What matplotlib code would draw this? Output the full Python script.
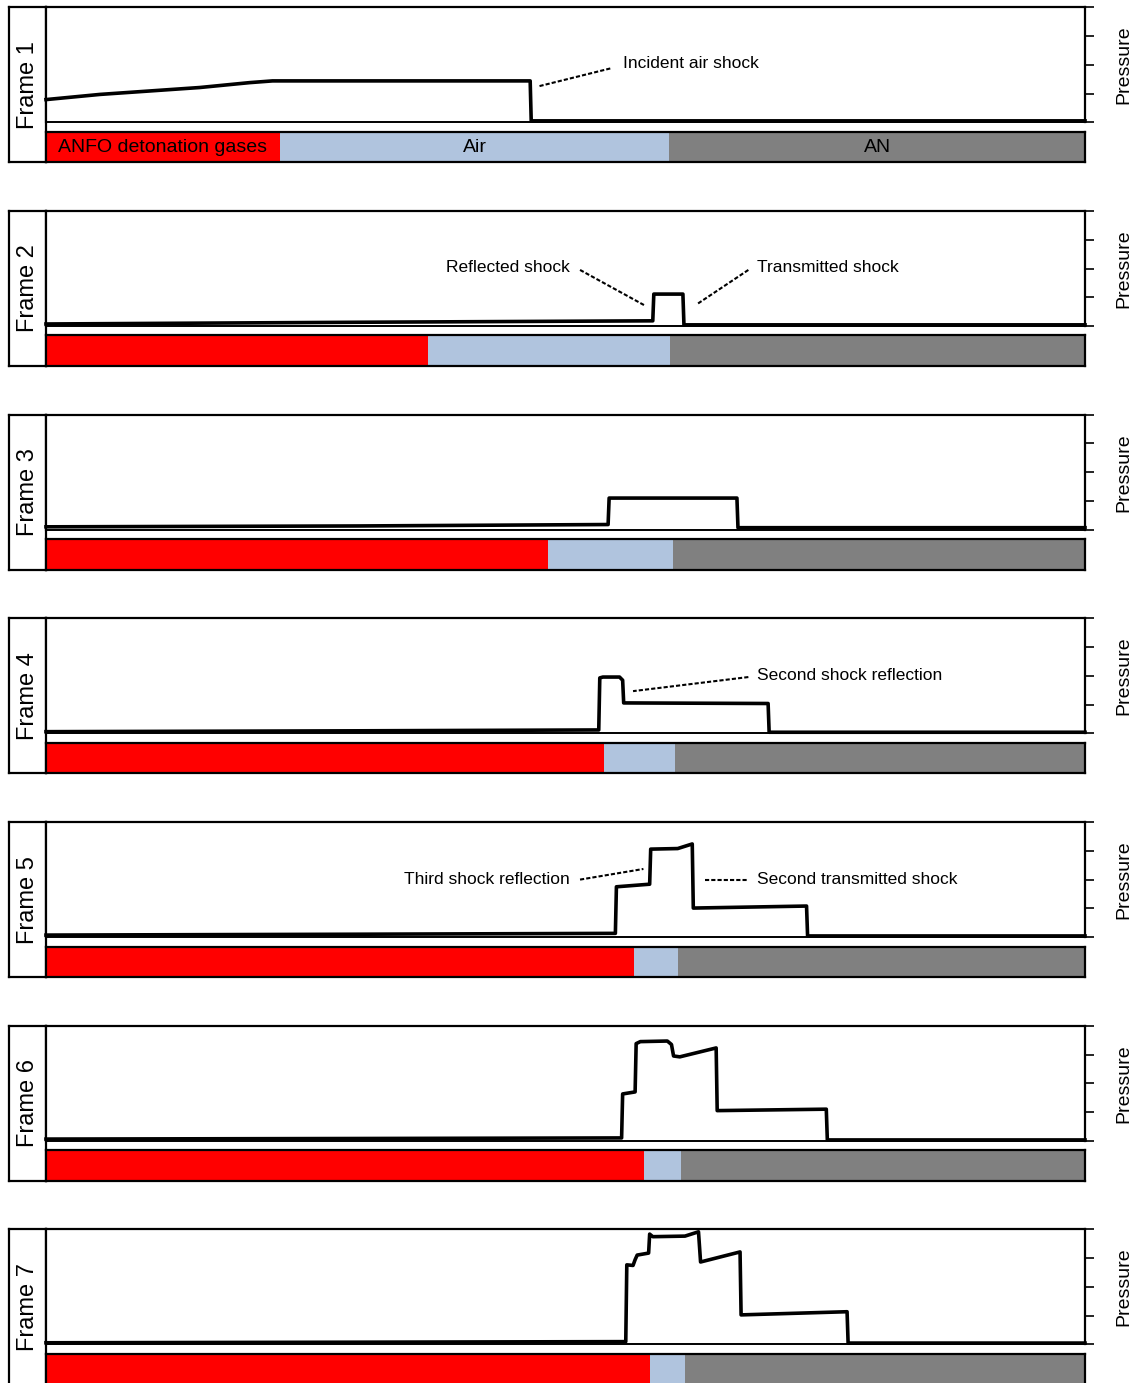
import matplotlib.pyplot as plt
from matplotlib.patches import Rectangle

plt.rcParams['font.family'] = ['Liberation Sans', 'DejaVu Sans']

# pressure profiles along the column (position 0-100, pressure in arbitrary units 0-4)
x1 = [0, 5.2, 10.0, 14.8, 19.6, 21.8, 46.6, 46.7, 100]
p1 = [0.79, 0.97, 1.09, 1.21, 1.38, 1.44, 1.44, 0.05, 0.05]

x2 = [0, 30, 58.4, 58.5, 61.3, 61.4, 100]
p2 = [0.07, 0.13, 0.18, 1.11, 1.11, 0.04, 0.04]

x3 = [0, 30, 54.1, 54.2, 66.5, 66.6, 100]
p3 = [0.1, 0.13, 0.18, 1.10, 1.10, 0.07, 0.07]

x4 = [0, 30, 53.2, 53.3, 53.6, 55.2, 55.5, 55.6, 69.5, 69.6, 100]
p4 = [0.06, 0.09, 0.12, 1.93, 1.96, 1.96, 1.85, 1.06, 1.04, 0.04, 0.04]

x5 = [0, 30, 54.8, 54.9, 58.1, 58.2, 60.8, 62.2, 62.3, 73.2, 73.3, 100]
p5 = [0.07, 0.1, 0.13, 1.75, 1.84, 3.06, 3.08, 3.24, 1.01, 1.08, 0.04, 0.04]

x6 = [0, 30, 55.4, 55.5, 56.7, 56.8, 57.2, 59.8, 60.2, 60.4, 61.0, 64.5, 64.6, 75.1, 75.2, 100]
p6 = [0.06, 0.08, 0.1, 1.63, 1.70, 3.38, 3.45, 3.47, 3.35, 2.95, 2.92, 3.23, 1.05, 1.10, 0.03, 0.03]

x7 = [0, 30, 55.8, 55.9, 56.5, 56.7, 56.9, 58.0, 58.1, 58.4, 61.5, 62.8, 63.0, 66.8, 66.9, 77.1, 77.2, 100]
p7 = [0.06, 0.08, 0.1, 2.77, 2.75, 2.95, 3.11, 3.18, 3.84, 3.75, 3.77, 3.92, 2.87, 3.22, 1.03, 1.14, 0.05, 0.05]

profiles = [(x1, p1), (x2, p2), (x3, p3), (x4, p4), (x5, p5), (x6, p6), (x7, p7)]

# material boundaries: end of detonation gases, end of air gap
gas_end = [22.5, 36.8, 48.3, 53.7, 56.6, 57.6, 58.1]
air_end = [60.0, 60.1, 60.3, 60.5, 60.8, 61.1, 61.5]

materials = ['ANFO detonation gases', 'Air', 'AN']
material_colors = ['#ff0000', '#b0c4de', '#808080']

frame_labels = ['Frame %d' % (i + 1) for i in range(7)]

# callouts per frame: (text, text_x, text_y, ha, (x0, y0), (x1, y1))
notes = {
    0: [('Incident air shock', 55.5, 2.03, 'left', (47.5, 1.26), (54.5, 1.89))],
    1: [('Reflected shock', 50.4, 2.02, 'right', (51.4, 1.95), (57.7, 0.70)),
        ('Transmitted shock', 68.4, 2.02, 'left', (67.6, 1.95), (62.7, 0.77))],
    3: [('Second shock reflection', 68.4, 2.03, 'left', (67.6, 1.96), (56.5, 1.47))],
    4: [('Third shock reflection', 50.4, 2.02, 'right', (51.4, 2.0), (57.5, 2.37)),
        ('Second transmitted shock', 68.4, 2.02, 'left', (63.4, 2.0), (67.6, 2.0))],
}

W, H = 1133, 1383
fig = plt.figure(figsize=(W / 100, H / 100), dpi=100)


def px_axes(left, top, right, bottom):
    return fig.add_axes([left / W, 1 - bottom / H, (right - left) / W, (bottom - top) / H])


XL, XR = 46, 1085
step = 203.7

for i, (xs, ps) in enumerate(profiles):
    top = 7.3 + i * step
    plot_bottom = top + 115
    bar_top = top + 124.4
    bar_bottom = top + 155

    # frame label strip
    lab = px_axes(9, top, XL, bar_bottom)
    lab.set_xticks([])
    lab.set_yticks([])
    for s in lab.spines.values():
        s.set_linewidth(1.6)
    lab.text(0.5, 0.5, frame_labels[i], rotation=90, ha='center', va='center',
             fontsize=17, transform=lab.transAxes)

    # pressure profile
    ax = px_axes(XL, top, XR, plot_bottom)
    ax.plot(xs, ps, color='black', lw=2.6, solid_joinstyle='round', clip_on=False, zorder=3)
    ax.set_xlim(0, 100)
    ax.set_ylim(0, 4)
    ax.set_xticks([])
    ax.yaxis.tick_right()
    ax.set_yticks([0, 1, 2, 3, 4])
    ax.set_yticklabels([])
    ax.tick_params(axis='y', direction='out', length=6.5, width=1.2)
    ax.yaxis.set_label_position('right')
    ax.set_ylabel('Pressure', fontsize=14, labelpad=12)
    for s in ax.spines.values():
        s.set_linewidth(1.6)
    ax.spines['bottom'].set_linewidth(1.4)

    for text, tx, ty, ha, (a0, b0), (a1, b1) in notes.get(i, []):
        ax.plot([a0, a1], [b0, b1], color='black', lw=1.5, linestyle=(0, (2, 1)))
        ax.text(tx, ty, text, ha=ha, va='center', fontsize=12.5)

    # material bar
    bar = px_axes(XL, bar_top, XR, bar_bottom)
    edges = [0, gas_end[i], air_end[i], 100]
    for k in range(3):
        bar.add_patch(Rectangle((edges[k], 0), edges[k + 1] - edges[k], 1,
                                facecolor=material_colors[k], edgecolor='none'))
        if i == 0:
            bar.text((edges[k] + edges[k + 1]) / 2, 0.5, materials[k],
                     ha='center', va='center', fontsize=14)
    bar.set_xlim(0, 100)
    bar.set_ylim(0, 1)
    bar.set_xticks([])
    bar.set_yticks([])
    for s in bar.spines.values():
        s.set_linewidth(1.6)

fig.savefig('out.png', dpi=100)
